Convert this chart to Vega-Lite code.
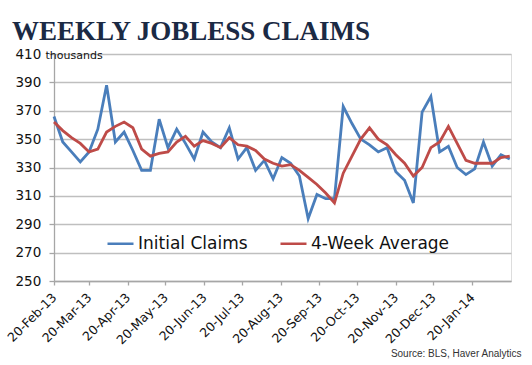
{
  "$schema": "https://vega.github.io/schema/vega-lite/v6.json",
  "width": 457,
  "height": 227,
  "autosize": {"type": "none"},
  "padding": {"left": 54, "top": 54, "right": 21, "bottom": 84},
  "background": "white",
  "title": {
    "text": "WEEKLY JOBLESS CLAIMS",
    "font": "Liberation Serif",
    "fontSize": 27,
    "fontWeight": "bold",
    "color": "#1b2a44",
    "anchor": "start",
    "frame": "group",
    "dx": -42,
    "dy": 28,
    "baseline": "alphabetic",
    "offset": 8
  },
  "data": {
    "values": [
      {"date": "2013-02-20", "series": "Initial Claims", "claims": 366},
      {"date": "2013-02-27", "series": "Initial Claims", "claims": 348},
      {"date": "2013-03-06", "series": "Initial Claims", "claims": 341},
      {"date": "2013-03-13", "series": "Initial Claims", "claims": 334},
      {"date": "2013-03-20", "series": "Initial Claims", "claims": 341},
      {"date": "2013-03-27", "series": "Initial Claims", "claims": 357},
      {"date": "2013-04-03", "series": "Initial Claims", "claims": 388},
      {"date": "2013-04-10", "series": "Initial Claims", "claims": 348},
      {"date": "2013-04-17", "series": "Initial Claims", "claims": 355},
      {"date": "2013-04-24", "series": "Initial Claims", "claims": 342},
      {"date": "2013-05-01", "series": "Initial Claims", "claims": 328},
      {"date": "2013-05-08", "series": "Initial Claims", "claims": 328},
      {"date": "2013-05-15", "series": "Initial Claims", "claims": 364},
      {"date": "2013-05-22", "series": "Initial Claims", "claims": 344},
      {"date": "2013-05-29", "series": "Initial Claims", "claims": 357},
      {"date": "2013-06-05", "series": "Initial Claims", "claims": 347},
      {"date": "2013-06-12", "series": "Initial Claims", "claims": 336},
      {"date": "2013-06-19", "series": "Initial Claims", "claims": 355},
      {"date": "2013-06-26", "series": "Initial Claims", "claims": 348},
      {"date": "2013-07-03", "series": "Initial Claims", "claims": 344},
      {"date": "2013-07-10", "series": "Initial Claims", "claims": 358},
      {"date": "2013-07-17", "series": "Initial Claims", "claims": 336},
      {"date": "2013-07-24", "series": "Initial Claims", "claims": 344},
      {"date": "2013-07-31", "series": "Initial Claims", "claims": 328},
      {"date": "2013-08-07", "series": "Initial Claims", "claims": 335},
      {"date": "2013-08-14", "series": "Initial Claims", "claims": 322},
      {"date": "2013-08-21", "series": "Initial Claims", "claims": 337},
      {"date": "2013-08-28", "series": "Initial Claims", "claims": 333},
      {"date": "2013-09-04", "series": "Initial Claims", "claims": 324},
      {"date": "2013-09-11", "series": "Initial Claims", "claims": 294},
      {"date": "2013-09-18", "series": "Initial Claims", "claims": 311},
      {"date": "2013-09-25", "series": "Initial Claims", "claims": 308},
      {"date": "2013-10-02", "series": "Initial Claims", "claims": 308},
      {"date": "2013-10-09", "series": "Initial Claims", "claims": 373},
      {"date": "2013-10-16", "series": "Initial Claims", "claims": 361},
      {"date": "2013-10-23", "series": "Initial Claims", "claims": 350},
      {"date": "2013-10-30", "series": "Initial Claims", "claims": 346},
      {"date": "2013-11-06", "series": "Initial Claims", "claims": 341},
      {"date": "2013-11-13", "series": "Initial Claims", "claims": 344},
      {"date": "2013-11-20", "series": "Initial Claims", "claims": 327},
      {"date": "2013-11-27", "series": "Initial Claims", "claims": 321},
      {"date": "2013-12-04", "series": "Initial Claims", "claims": 305},
      {"date": "2013-12-11", "series": "Initial Claims", "claims": 369},
      {"date": "2013-12-18", "series": "Initial Claims", "claims": 380},
      {"date": "2013-12-25", "series": "Initial Claims", "claims": 341},
      {"date": "2014-01-01", "series": "Initial Claims", "claims": 345},
      {"date": "2014-01-08", "series": "Initial Claims", "claims": 330},
      {"date": "2014-01-15", "series": "Initial Claims", "claims": 325},
      {"date": "2014-01-22", "series": "Initial Claims", "claims": 329},
      {"date": "2014-01-29", "series": "Initial Claims", "claims": 348},
      {"date": "2014-02-05", "series": "Initial Claims", "claims": 331},
      {"date": "2014-02-12", "series": "Initial Claims", "claims": 339},
      {"date": "2014-02-19", "series": "Initial Claims", "claims": 336},
      {"date": "2013-02-20", "series": "4-Week Average", "claims": 362},
      {"date": "2013-02-27", "series": "4-Week Average", "claims": 356},
      {"date": "2013-03-06", "series": "4-Week Average", "claims": 351},
      {"date": "2013-03-13", "series": "4-Week Average", "claims": 347},
      {"date": "2013-03-20", "series": "4-Week Average", "claims": 341},
      {"date": "2013-03-27", "series": "4-Week Average", "claims": 343},
      {"date": "2013-04-03", "series": "4-Week Average", "claims": 355},
      {"date": "2013-04-10", "series": "4-Week Average", "claims": 359},
      {"date": "2013-04-17", "series": "4-Week Average", "claims": 362},
      {"date": "2013-04-24", "series": "4-Week Average", "claims": 358},
      {"date": "2013-05-01", "series": "4-Week Average", "claims": 343},
      {"date": "2013-05-08", "series": "4-Week Average", "claims": 338},
      {"date": "2013-05-15", "series": "4-Week Average", "claims": 340},
      {"date": "2013-05-22", "series": "4-Week Average", "claims": 341},
      {"date": "2013-05-29", "series": "4-Week Average", "claims": 348},
      {"date": "2013-06-05", "series": "4-Week Average", "claims": 352},
      {"date": "2013-06-12", "series": "4-Week Average", "claims": 345},
      {"date": "2013-06-19", "series": "4-Week Average", "claims": 349},
      {"date": "2013-06-26", "series": "4-Week Average", "claims": 347},
      {"date": "2013-07-03", "series": "4-Week Average", "claims": 344},
      {"date": "2013-07-10", "series": "4-Week Average", "claims": 351},
      {"date": "2013-07-17", "series": "4-Week Average", "claims": 346},
      {"date": "2013-07-24", "series": "4-Week Average", "claims": 345},
      {"date": "2013-07-31", "series": "4-Week Average", "claims": 342},
      {"date": "2013-08-07", "series": "4-Week Average", "claims": 336},
      {"date": "2013-08-14", "series": "4-Week Average", "claims": 333},
      {"date": "2013-08-21", "series": "4-Week Average", "claims": 331},
      {"date": "2013-08-28", "series": "4-Week Average", "claims": 332},
      {"date": "2013-09-04", "series": "4-Week Average", "claims": 328},
      {"date": "2013-09-11", "series": "4-Week Average", "claims": 323},
      {"date": "2013-09-18", "series": "4-Week Average", "claims": 318},
      {"date": "2013-09-25", "series": "4-Week Average", "claims": 312},
      {"date": "2013-10-02", "series": "4-Week Average", "claims": 305},
      {"date": "2013-10-09", "series": "4-Week Average", "claims": 326},
      {"date": "2013-10-16", "series": "4-Week Average", "claims": 338},
      {"date": "2013-10-23", "series": "4-Week Average", "claims": 350},
      {"date": "2013-10-30", "series": "4-Week Average", "claims": 358},
      {"date": "2013-11-06", "series": "4-Week Average", "claims": 350},
      {"date": "2013-11-13", "series": "4-Week Average", "claims": 346},
      {"date": "2013-11-20", "series": "4-Week Average", "claims": 339},
      {"date": "2013-11-27", "series": "4-Week Average", "claims": 333},
      {"date": "2013-12-04", "series": "4-Week Average", "claims": 324},
      {"date": "2013-12-11", "series": "4-Week Average", "claims": 330},
      {"date": "2013-12-18", "series": "4-Week Average", "claims": 344},
      {"date": "2013-12-25", "series": "4-Week Average", "claims": 348},
      {"date": "2014-01-01", "series": "4-Week Average", "claims": 359},
      {"date": "2014-01-08", "series": "4-Week Average", "claims": 347},
      {"date": "2014-01-15", "series": "4-Week Average", "claims": 335},
      {"date": "2014-01-22", "series": "4-Week Average", "claims": 333},
      {"date": "2014-01-29", "series": "4-Week Average", "claims": 333},
      {"date": "2014-02-05", "series": "4-Week Average", "claims": 333},
      {"date": "2014-02-12", "series": "4-Week Average", "claims": 337},
      {"date": "2014-02-19", "series": "4-Week Average", "claims": 338}
    ]
  },
  "mark": {"type": "line", "strokeWidth": 2.8},
  "encoding": {
    "x": {
      "field": "date",
      "type": "temporal",
      "scale": {
        "type": "utc",
        "domain": [
          {"year": 2013, "month": 2, "date": 20, "utc": true},
          {"year": 2014, "month": 2, "date": 20, "utc": true}
        ]
      },
      "axis": {
        "values": [
          {"year": 2013, "month": 2, "date": 20, "utc": true},
          {"year": 2013, "month": 3, "date": 20, "utc": true},
          {"year": 2013, "month": 4, "date": 20, "utc": true},
          {"year": 2013, "month": 5, "date": 20, "utc": true},
          {"year": 2013, "month": 6, "date": 20, "utc": true},
          {"year": 2013, "month": 7, "date": 20, "utc": true},
          {"year": 2013, "month": 8, "date": 20, "utc": true},
          {"year": 2013, "month": 9, "date": 20, "utc": true},
          {"year": 2013, "month": 10, "date": 20, "utc": true},
          {"year": 2013, "month": 11, "date": 20, "utc": true},
          {"year": 2013, "month": 12, "date": 20, "utc": true},
          {"year": 2014, "month": 1, "date": 20, "utc": true}
        ],
        "format": "%d-%b-%y",
        "labelAngle": -45,
        "labelAlign": "right",
        "labelBaseline": "middle",
        "labelPadding": 10,
        "labelOverlap": false,
        "labelFont": "DejaVu Sans",
        "labelFontSize": 12.5,
        "labelColor": "#111111",
        "grid": false,
        "tickSize": 4,
        "tickColor": "#a6a6a6",
        "tickWidth": 1.3,
        "domainColor": "#a6a6a6",
        "domainWidth": 1.3,
        "title": "Source:  BLS, Haver Analytics",
        "titleFont": "Liberation Sans Narrow, Liberation Sans",
        "titleFontSize": 10,
        "titleFontWeight": "normal",
        "titleColor": "#333333",
        "titleX": 467,
        "titleY": 72,
        "titleAlign": "right",
        "titleBaseline": "middle"
      }
    },
    "y": {
      "field": "claims",
      "type": "quantitative",
      "scale": {"domain": [250, 410], "nice": false, "zero": false},
      "axis": {
        "values": [250, 270, 290, 310, 330, 350, 370, 390, 410],
        "labelAlign": "left",
        "labelBaseline": "middle",
        "labelPadding": 34,
        "tickSize": 5,
        "tickColor": "#a6a6a6",
        "tickWidth": 1.3,
        "labelFont": "DejaVu Sans",
        "labelFontSize": 13.5,
        "labelColor": "#111111",
        "gridColor": "#bfbfbf",
        "gridWidth": 1.3,
        "domainColor": "#a6a6a6",
        "domainWidth": 1.3,
        "title": "thousands",
        "titleAngle": 0,
        "titleX": -9,
        "titleY": 4.5,
        "titleAlign": "left",
        "titleBaseline": "alphabetic",
        "titleFont": "DejaVu Sans",
        "titleFontSize": 11,
        "titleFontWeight": "normal",
        "titleColor": "#111111"
      }
    },
    "color": {
      "field": "series",
      "type": "nominal",
      "scale": {"domain": ["Initial Claims", "4-Week Average"], "range": ["#4a7ebb", "#be4b48"]},
      "legend": {
        "orient": "none",
        "legendX": 52,
        "legendY": 175,
        "direction": "horizontal",
        "title": null,
        "symbolType": "stroke",
        "symbolSize": 676,
        "symbolStrokeWidth": 2.5,
        "labelFont": "DejaVu Sans",
        "labelFontSize": 17,
        "labelColor": "#111111",
        "labelOffset": 3,
        "labelLimit": 300,
        "columnPadding": 27
      }
    }
  }
}
